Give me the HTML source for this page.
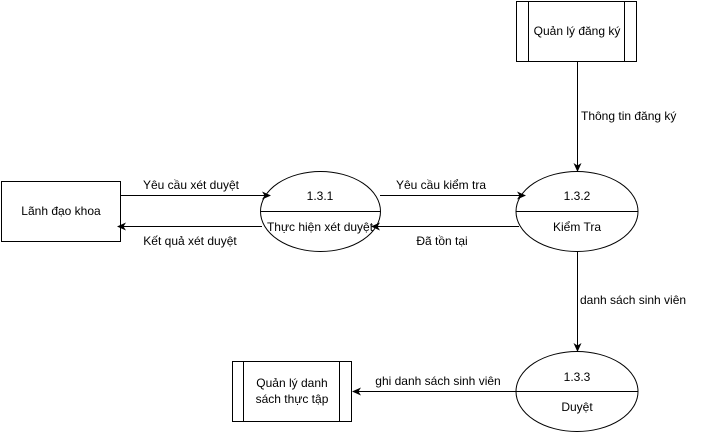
<!DOCTYPE html>
<html><head><meta charset="utf-8"><style>
body{margin:0;background:#fff;}
svg text{font-family:"Liberation Sans",Helvetica,Arial,sans-serif;font-size:12px;fill:#000;}
</style></head><body>
<svg width="701" height="432" viewBox="0 0 701 432" xmlns="http://www.w3.org/2000/svg">
<defs><marker id="a" markerWidth="10" markerHeight="10" refX="8" refY="5" orient="auto" markerUnits="userSpaceOnUse"><path d="M0,1 L9,5 L0,9 L2.5,5 Z" fill="#000"/></marker></defs>
<g fill="none" stroke="#000" stroke-width="1">
<rect x="1.5" y="181.5" width="119" height="60"/>
<rect x="516.5" y="1.5" width="120" height="60"/>
<line x1="528.5" y1="1.5" x2="528.5" y2="61.5"/><line x1="624.5" y1="1.5" x2="624.5" y2="61.5"/>
<rect x="232.5" y="361.5" width="119" height="60"/>
<line x1="243.5" y1="361.5" x2="243.5" y2="421.5"/><line x1="339.5" y1="361.5" x2="339.5" y2="421.5"/>
<ellipse cx="320.5" cy="211.5" rx="60" ry="40"/><line x1="261" y1="211.5" x2="380" y2="211.5"/>
<ellipse cx="577" cy="211.5" rx="61" ry="40"/><line x1="516" y1="211.5" x2="638" y2="211.5"/>
<ellipse cx="577" cy="391.5" rx="61" ry="40"/><line x1="516" y1="391.5" x2="638" y2="391.5"/>
<line x1="121" y1="195.5" x2="270" y2="195.5" marker-end="url(#a)"/>
<line x1="262" y1="226.5" x2="118" y2="226.5" marker-end="url(#a)"/>
<line x1="380" y1="195.5" x2="525" y2="195.5" marker-end="url(#a)"/>
<line x1="519" y1="226.5" x2="372" y2="226.5" marker-end="url(#a)"/>
<line x1="577.5" y1="62" x2="577.5" y2="171" marker-end="url(#a)"/>
<line x1="577.5" y1="252" x2="577.5" y2="351" marker-end="url(#a)"/>
<line x1="516" y1="391.5" x2="353" y2="391.5" marker-end="url(#a)"/>
</g>
<text x="61" y="215" text-anchor="middle">Lãnh đạo khoa</text>
<text x="577" y="35" text-anchor="middle">Quản lý đăng ký</text>
<text x="292" y="387" text-anchor="middle">Quản lý danh</text>
<text x="292" y="403" text-anchor="middle">sách thực tập</text>
<text x="320" y="200" text-anchor="middle">1.3.1</text>
<text x="320" y="231" text-anchor="middle">Thực hiện xét duyệt</text>
<text x="577" y="200" text-anchor="middle">1.3.2</text>
<text x="577" y="231" text-anchor="middle">Kiểm Tra</text>
<text x="577" y="381" text-anchor="middle">1.3.3</text>
<text x="577" y="411" text-anchor="middle">Duyệt</text>
<text x="191" y="189" text-anchor="middle">Yêu cầu xét duyệt</text>
<text x="190" y="245" text-anchor="middle">Kết quả xét duyệt</text>
<text x="441" y="189" text-anchor="middle">Yêu cầu kiểm tra</text>
<text x="442" y="245" text-anchor="middle">Đã tồn tại</text>
<text x="581" y="120">Thông tin đăng ký</text>
<text x="580" y="304">danh sách sinh viên</text>
<text x="438" y="385" text-anchor="middle">ghi danh sách sinh viên</text>
</svg>
</body></html>
